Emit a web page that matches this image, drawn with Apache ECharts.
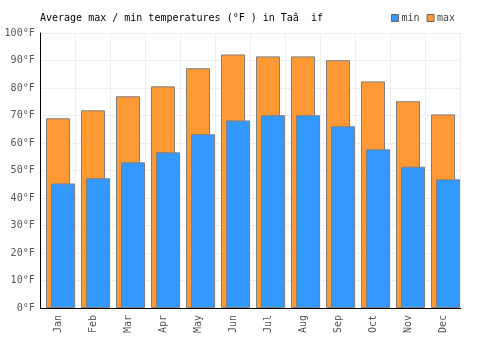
<!DOCTYPE html>
<html><head><meta charset="utf-8">
<script src="https://cdn.jsdelivr.net/npm/echarts@6/dist/echarts.min.js"></script>
<style>html,body{margin:0;padding:0;background:#fff}#c{width:500px;height:350px}</style>
</head><body><div id="c"></div>
<script>
const months = ['Jan','Feb','Mar','Apr','May','Jun','Jul','Aug','Sep','Oct','Nov','Dec'];
const maxTemps = [69.0, 71.9, 77.0, 80.6, 87.2, 92.2, 91.5, 91.5, 90.1, 82.4, 75.2, 70.4];
const minTemps = [45.3, 47.2, 53.0, 56.6, 63.2, 68.2, 70.1, 70.1, 66.1, 57.7, 51.4, 46.8];
const yTicks = [0, 10, 20, 30, 40, 50, 60, 70, 80, 90, 100];
const titleText = 'Average max / min temperatures (°F ) in Taâ  if';

const font = '"DejaVu Sans Mono", monospace';
const chart = echarts.init(document.getElementById('c'), null, {renderer: 'canvas'});
const gap = '-79.17%';
chart.setOption({
  animation: false,
  textStyle: {fontFamily: font},
  title: {text: titleText, left: 35, top: 8, textStyle: {fontFamily: font, fontSize: 10, fontWeight: 'normal', color: '#000'}},
  legend: {
    data: ['min', 'max'], left: 386, top: 8, itemWidth: 7, itemHeight: 7, itemGap: 7,
    icon: 'rect',
    itemStyle: {borderColor: '#666', borderWidth: 1},
    textStyle: {fontFamily: font, fontSize: 10, color: '#444', padding: [0, 0, 0, -2]}
  },
  grid: {left: 40.7, right: 39.3, top: 33, bottom: 42, containLabel: false},
  xAxis: {
    type: 'category', data: months, boundaryGap: true,
    axisLine: {lineStyle: {color: '#000', width: 1}},
    axisTick: {show: false},
    axisLabel: {rotate: 90, fontFamily: font, fontSize: 10, color: '#555', margin: 7},
    splitLine: {show: true, lineStyle: {color: '#eee'}}
  },
  yAxis: {
    type: 'value', min: yTicks[0], max: yTicks[yTicks.length - 1], interval: 10,
    axisLine: {show: true, lineStyle: {color: '#000', width: 1}},
    axisTick: {show: false},
    axisLabel: {formatter: v => v + '°F', fontFamily: font, fontSize: 10, color: '#555', margin: 6},
    splitLine: {show: true, lineStyle: {color: '#eee'}}
  },
  series: [
    {name: 'dummy', type: 'bar', data: months.map(() => '-'), barWidth: 22, barGap: gap, silent: true},
    {name: 'max', type: 'bar', data: maxTemps, barWidth: 24, barGap: gap,
      itemStyle: {color: '#FF9933', borderColor: '#808080', borderWidth: 1}},
    {name: 'min', type: 'bar', data: minTemps, barWidth: 24, barGap: gap,
      itemStyle: {color: '#3399FF', borderColor: '#808080', borderWidth: 1}}
  ]
});
</script></body></html>
